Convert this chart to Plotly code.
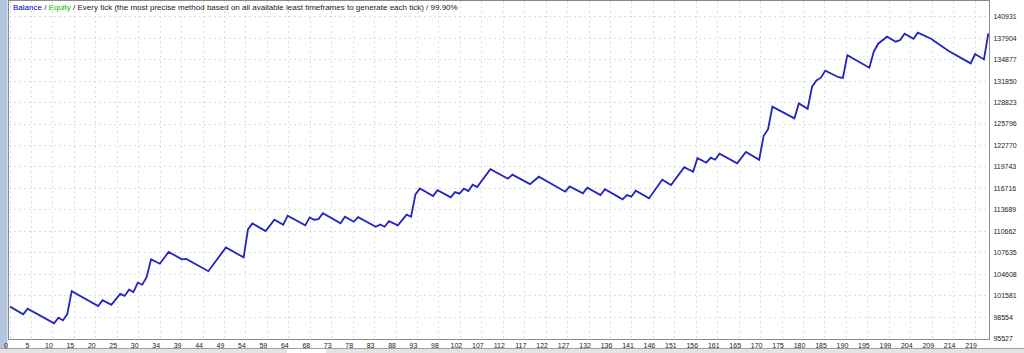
import plotly.graph_objects as go

# ---- data (trade number -> balance) ----
trade = [0, 3, 4, 10, 11, 12, 13, 14, 20, 21,
         23, 25, 26, 27, 28, 29, 30, 31, 32, 34,
         36, 39, 40, 43, 45, 49, 53, 54, 55, 58,
         60, 62, 63, 67, 68, 69, 70, 71, 75, 76,
         78, 79, 83, 84, 85, 86, 88, 90, 91, 92,
         93, 96, 97, 100, 101, 102, 103, 104, 105, 106,
         109, 113, 114, 118, 120, 126, 127, 130, 131, 134,
         135, 139, 140, 141, 142, 145, 148, 150, 153, 155,
         156, 158, 159, 160, 161, 165, 167, 170, 171, 172,
         173, 178, 179, 181, 182, 183, 184, 185, 188, 189,
         190, 195, 196, 197, 199, 201, 202, 203, 205, 206,
         209, 213, 218, 219, 221, 222]
balance = [100053, 98953, 99757, 97684, 98488, 98107, 98996, 102239, 100124, 100970,
           100293, 101844, 101562, 102436, 102098, 103423, 103141, 104213, 106708, 106102,
           107766, 106708, 106779, 105721, 105045, 108400, 106990, 110938, 111784, 110699,
           112306, 111601, 112870, 111502, 112630, 112306, 112391, 113237, 111784, 112729,
           112024, 112673, 111319, 111643, 111319, 112109, 111502, 113011, 112729, 115873,
           116719, 115634, 116480, 115450, 116198, 115972, 116677, 116339, 117241, 116903,
           119427, 118087, 118651, 117326, 118369, 116254, 117001, 116014, 116818, 115775,
           116621, 115168, 115775, 115549, 116395, 115309, 117946, 117185, 119723, 119074,
           120992, 120343, 121048, 120766, 121612, 120244, 121866, 120766, 124094, 125038,
           128239, 126589, 128704, 127957, 131059, 131947, 132328, 133315, 132400, 132300,
           135515, 133738, 135994, 137122, 138109, 137404, 137630, 138532, 137827, 138673,
           137827, 136079, 134344, 135656, 134908, 138574]

x_tick_labels = ["0", "5", "10", "15", "20", "25", "30", "34", "39", "44", "49", "54",
                 "59", "64", "68", "73", "78", "83", "88", "93", "98", "102", "107",
                 "112", "117", "122", "127", "132", "136", "141", "146", "151", "156",
                 "161", "165", "170", "175", "180", "185", "190", "195", "199", "204",
                 "209", "214", "219"]
y_tick_values = [95527, 98554, 101581, 104608, 107635, 110662, 113689, 116716,
                 119743, 122770, 125796, 128823, 131850, 134877, 137904, 140931]

# grid columns are evenly spaced; the labels are the rounded trade numbers
step = int(x_tick_labels[-1]) / (len(x_tick_labels) - 1)
x_tick_pos = [i * step for i in range(len(x_tick_labels))]

W, H = 1024, 353
L, R, T, B = 9, 35, 1, 14
PW, PH = W - L - R, H - T - B


def px_x(p):
    return (p - L) / PW


def px_y(p):
    return (H - B - p) / PH


fig = go.Figure()
fig.add_trace(go.Scatter(
    x=trade, y=balance, mode="lines",
    line=dict(color="#2424bc", width=1.8),
    hoverinfo="skip",
))

grid = dict(showgrid=True, gridcolor="#dedede", griddash="2px,3px", gridwidth=1,
            zeroline=False, showline=True, mirror=True, linecolor="#8a8a8a",
            linewidth=1, ticks="")
tick_font = dict(family="Liberation Sans, Arial, sans-serif", size=7, color="#222222")

fig.update_xaxes(range=[-0.23, 222.15], tickmode="array", tickvals=x_tick_pos,
                 ticktext=x_tick_labels, tickfont=tick_font, ticklabelshift=-4,
                 ticklabelstandoff=0, **grid)
fig.update_yaxes(range=[95485, 143143], side="right", tickmode="array",
                 tickvals=y_tick_values, ticktext=[str(v) for v in y_tick_values],
                 tickfont=tick_font, ticklabelstandoff=2, **grid)

shapes = [
    # left blue-grey strip
    dict(type="rect", xref="paper", yref="paper", x0=px_x(0), x1=px_x(7.5),
         y0=px_y(H), y1=px_y(0), fillcolor="#b4c6de", line=dict(width=0), layer="below"),
    # bottom grey strip
    dict(type="rect", xref="paper", yref="paper", x0=px_x(0), x1=px_x(W),
         y0=px_y(H), y1=px_y(348), fillcolor="#e4e4e4", line=dict(width=0)),
    dict(type="line", xref="paper", yref="paper", x0=px_x(0), x1=px_x(W),
         y0=px_y(348.5), y1=px_y(348.5), line=dict(color="#a0a0a0", width=1)),
    dict(type="rect", xref="paper", yref="paper", x0=px_x(287), x1=px_x(326),
         y0=px_y(H), y1=px_y(349), fillcolor="#ffffff", line=dict(width=0)),
]

fig.add_annotation(
    xref="paper", yref="paper", x=px_x(11), y=px_y(8), xanchor="left", yanchor="middle",
    showarrow=False,
    text=("<span style='color:#0000c8'>Balance</span> / "
          "<span style='color:#00c000'>Equity</span> / Every tick (the most precise method "
          "based on all available least timeframes to generate each tick) / 99.90%"),
    font=dict(family="Liberation Sans Narrow, Liberation Sans, Arial, sans-serif",
              size=8, color="#222222"),
)

fig.update_layout(
    width=W, height=H, margin=dict(l=L, r=R, t=T, b=B, pad=0),
    paper_bgcolor="white", plot_bgcolor="white", showlegend=False,
    shapes=shapes,
)

fig.write_html("out.html")
